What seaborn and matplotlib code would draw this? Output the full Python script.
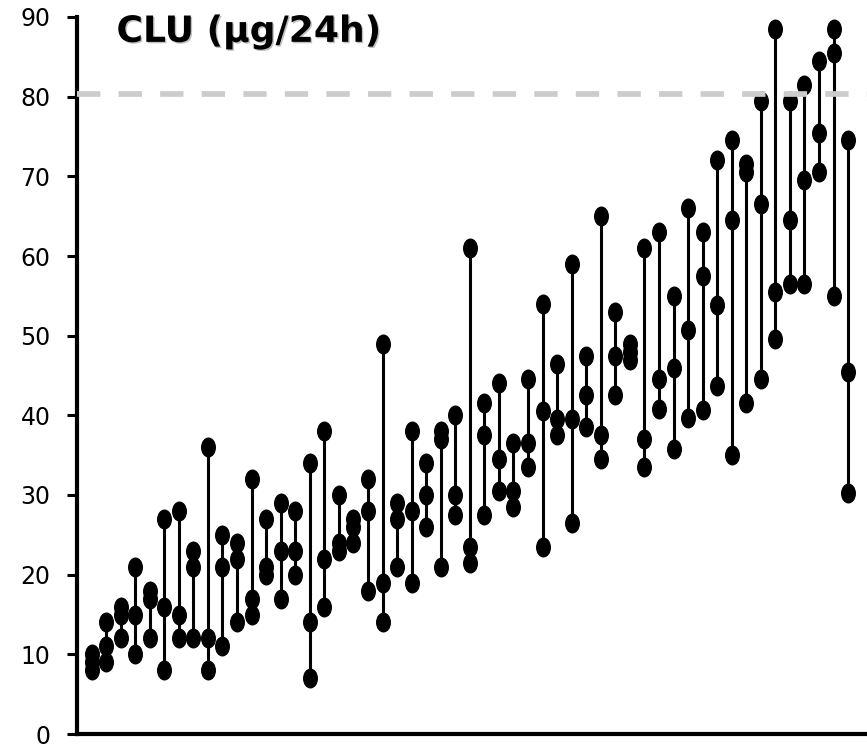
import numpy as np
import pandas as pd
import matplotlib
matplotlib.use("Agg")
import matplotlib.pyplot as plt
import matplotlib.patheffects as pe
import seaborn as sns
from matplotlib.path import Path
from matplotlib.transforms import Affine2D

# CLU (ug/24h) per patient, three collections each
clu_max = [10, 14, 16, 21, 18, 27, 28, 23, 36, 25, 24, 32, 27, 29, 28, 34, 38, 30, 27, 32,
           49, 29, 38, 34, 38, 40, 61, 41.5, 44, 36.5, 44.5, 54, 46.5, 59, 47.5, 65, 53, 49,
           61, 63, 55, 66, 63, 72, 74.5, 71.5, 79.5, 88.5, 79.5, 81.5, 84.5, 88.5, 74.5]
clu_mid = [9, 11, 15, 15, 17, 16, 15, 21, 12, 21, 22, 17, 21, 23, 23, 14, 22, 24, 26, 28,
           19, 27, 28, 30, 37, 30, 23.5, 37.5, 34.5, 30.5, 36.5, 40.5, 39.5, 39.5, 42.5, 37.5,
           47.5, 48, 37, 44.5, 46, 50.7, 57.5, 53.8, 64.5, 70.5, 66.5, 55.5, 64.5, 69.5, 75.5,
           85.5, 45.5]
clu_min = [8, 9, 12, 10, 12, 8, 12, 12, 8, 11, 14, 15, 20, 17, 20, 7, 16, 23, 24, 18,
           14, 21, 19, 26, 21, 27.5, 21.5, 27.5, 30.5, 28.5, 33.5, 23.5, 37.5, 26.5, 38.5,
           34.5, 42.5, 47, 33.5, 40.8, 35.8, 39.7, 40.7, 43.7, 35, 41.6, 44.5, 49.6, 56.5,
           56.5, 70.5, 55, 30.2]
upper_limit = 80.3
y_ticks = [0, 10, 20, 30, 40, 50, 60, 70, 80, 90]
title_text = "CLU (µg/24h)"

df = pd.DataFrame({
    "patient": np.arange(len(clu_max)),
    "max": clu_max,
    "mid": clu_mid,
    "min": clu_min,
})
long_df = df.melt(id_vars="patient", var_name="sample", value_name="clu")

sns.set_style("ticks")
plt.rcParams["font.family"] = ["DejaVu Sans"]

fig = plt.figure(figsize=(8.67, 7.51), dpi=100)
ax = fig.add_axes([77 / 867, 17 / 751, 790 / 867, 717 / 751])

# vertical range line per patient
vals = df[["max", "mid", "min"]]
ax.vlines(df["patient"], vals.min(axis=1), vals.max(axis=1),
          color="black", linewidth=2.2, zorder=2)

# tall oval markers
oval = Affine2D().scale(0.75, 1.0).transform_path(Path.unit_circle())
sns.scatterplot(data=long_df, x="patient", y="clu", marker=oval, s=207,
                color="black", edgecolor="black", linewidth=0, ax=ax, zorder=3,
                legend=False)

ax.axhline(upper_limit, color="#cccccc", linewidth=4.1, dashes=(4.1, 3.2), zorder=4)

ax.set_ylim(0, 90)
ax.set_xlim(-1, len(df) + 0.3)
ax.set_yticks(y_ticks)
ax.set_xticks([])
ax.set_xlabel("")
ax.set_ylabel("")
ax.tick_params(axis="y", length=7, width=2.2, pad=12, labelsize=17,
               colors="black", labelcolor="black")
sns.despine(ax=ax)
for side in ["left", "bottom"]:
    ax.spines[side].set_linewidth(3)
    ax.spines[side].set_color("black")

ax.text(0.05, 1.003, title_text, transform=ax.transAxes, fontsize=26,
        fontweight="bold", va="top", ha="left", color="black",
        path_effects=[pe.SimplePatchShadow(offset=(1, -1), alpha=0.25), pe.Normal()])

fig.savefig("out.png", dpi=100)
